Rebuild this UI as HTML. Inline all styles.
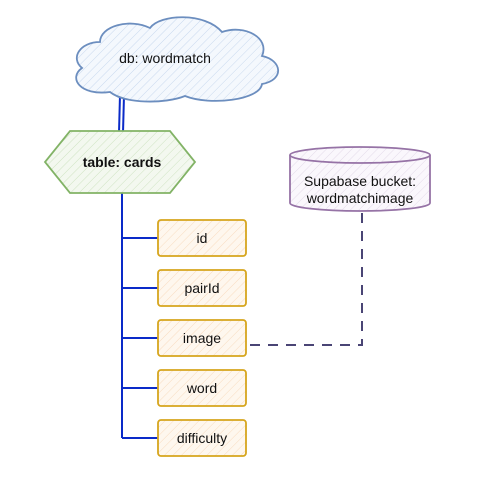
<!DOCTYPE html>
<html><head><meta charset="utf-8"><style>
html,body{margin:0;padding:0;background:#fff;width:487px;height:497px;overflow:hidden}
text{font-family:"Liberation Sans",sans-serif;font-size:14px;fill:#111;text-anchor:middle}
</style></head><body>
<svg width="487" height="497" viewBox="0 0 487 497" xmlns="http://www.w3.org/2000/svg">
<defs>
<pattern id="hb" width="6" height="6" patternUnits="userSpaceOnUse" patternTransform="rotate(45)"><rect width="6" height="6" fill="#f4f8fd"/><line x1="0" y1="0" x2="0" y2="6" stroke="#c9d9ee" stroke-width="1"/></pattern>
<pattern id="hg" width="6" height="6" patternUnits="userSpaceOnUse" patternTransform="rotate(45)"><rect width="6" height="6" fill="#f3f8ef"/><line x1="0" y1="0" x2="0" y2="6" stroke="#cfe3c2" stroke-width="1"/></pattern>
<pattern id="ho" width="6" height="6" patternUnits="userSpaceOnUse" patternTransform="rotate(45)"><rect width="6" height="6" fill="#fef7ee"/><line x1="0" y1="0" x2="0" y2="6" stroke="#f8dcc0" stroke-width="1"/></pattern>
<pattern id="hp" width="6" height="6" patternUnits="userSpaceOnUse" patternTransform="rotate(45)"><rect width="6" height="6" fill="#faf7fc"/><line x1="0" y1="0" x2="0" y2="6" stroke="#e4dbea" stroke-width="1"/></pattern>
</defs>
<g stroke="#0a2ac8" stroke-width="2" fill="none">
<line x1="120" y1="95" x2="119" y2="133"/><line x1="124" y1="95" x2="123" y2="133"/>
<line x1="122" y1="193" x2="122" y2="438"/>
<line x1="122" y1="238" x2="158" y2="238"/>
<line x1="122" y1="288" x2="158" y2="288"/>
<line x1="122" y1="338" x2="158" y2="338"/>
<line x1="122" y1="388" x2="158" y2="388"/>
<line x1="122" y1="438" x2="158" y2="438"/>
</g>
<path d="M362 213 V345 H250" stroke="#4a4575" stroke-width="2" fill="none" stroke-dasharray="10 8"/>
<path d="M100 42 C80 42 70 58 82 68 C68 78 80 96 110 92 C125 104 165 104 185 96 C210 106 260 100 262 84 C285 80 282 60 262 56 C270 38 245 24 222 32 C205 12 160 14 150 28 C130 18 100 26 100 42 Z" fill="url(#hb)" stroke="#6c8ebf" stroke-width="1.8"/>
<text x="165" y="63">db: wordmatch</text>
<polygon points="70,131 170,131 195,162 170,193 70,193 45,162" fill="url(#hg)" stroke="#82b366" stroke-width="1.8"/>
<text x="122" y="167" style="font-weight:bold">table: cards</text>
<path d="M290 155 V203 A70 8 0 0 0 430 203 V155" fill="url(#hp)" stroke="#9673a6" stroke-width="1.8"/>
<ellipse cx="360" cy="155" rx="70" ry="8" fill="url(#hp)" stroke="#9673a6" stroke-width="1.8"/>
<text x="360" y="186">Supabase bucket:</text>
<text x="360" y="203">wordmatchimage</text>
<g fill="url(#ho)" stroke="#d6a51d" stroke-width="1.8">
<rect x="158" y="220" width="88" height="36" rx="3"/>
<rect x="158" y="270" width="88" height="36" rx="3"/>
<rect x="158" y="320" width="88" height="36" rx="3"/>
<rect x="158" y="370" width="88" height="36" rx="3"/>
<rect x="158" y="420" width="88" height="36" rx="3"/>
</g>
<text x="202" y="243">id</text>
<text x="202" y="293">pairId</text>
<text x="202" y="343">image</text>
<text x="202" y="393">word</text>
<text x="202" y="443">difficulty</text>
</svg>
</body></html>
